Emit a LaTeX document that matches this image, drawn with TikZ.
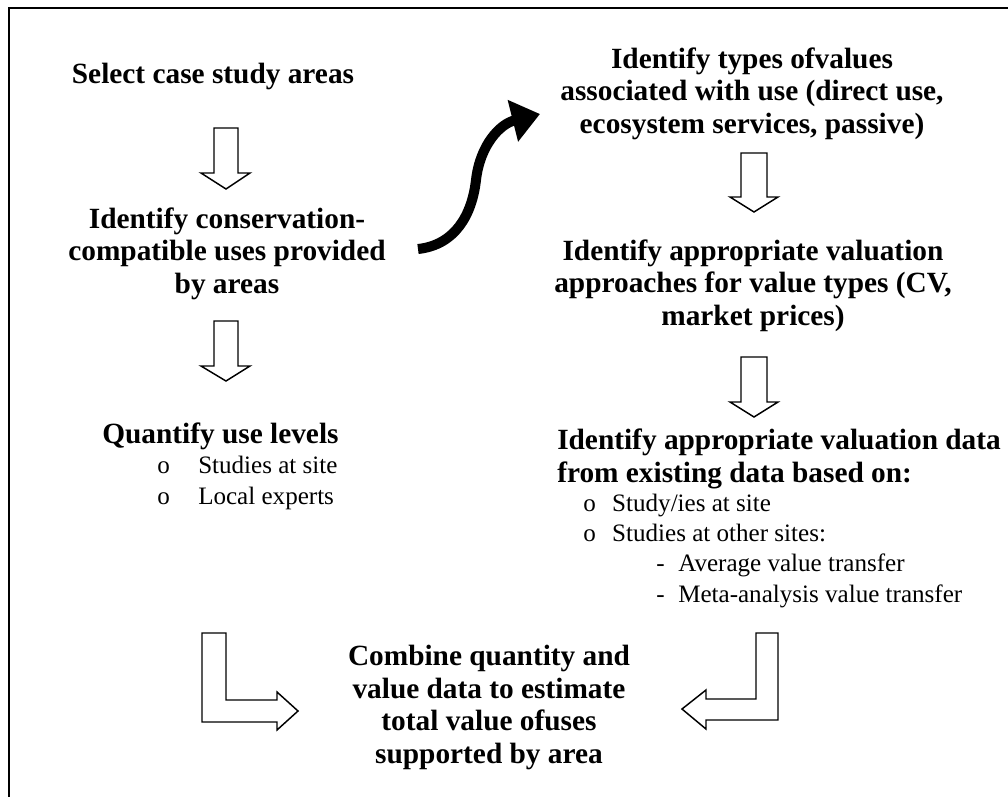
\documentclass[tikz,border=0pt]{standalone}
\usepackage{fontspec}
\setmainfont{Liberation Serif}
\usetikzlibrary{arrows.meta}
\tikzset{
  bold/.style={inner sep=0pt, font=\bfseries\fontsize{22}{24.3}\selectfont},
  plain/.style={inner sep=0pt, font=\fontsize{18.8}{22.6}\selectfont, align=left},
  blockarrow/.style={draw=black, line width=1.1pt, fill=white, line join=miter},
  frame/.style={draw=black, line width=1.5pt},
  curvy/.style={line width=7.5pt, -{Triangle[length=21pt,width=31pt]}}
}
\begin{document}
\begin{tikzpicture}[x=0.75pt,y=-0.75pt]
\useasboundingbox (0,0) rectangle (1008,797);
\draw[frame] (1008,7.5) -- (8.5,7.5) -- (8.5,797);

% left column (base anchor = baseline of the last line)
\node[bold, anchor=base] (sel) at (213,83) {Select case study areas};
\node[bold, anchor=base, align=center] (cons) at (227,293) {Identify conservation-\\compatible uses provided\\by areas};
\node[bold, anchor=base west] (quant) at (102,443) {Quantify use levels};
\node[plain, anchor=base west] (qlist) at (157,504) {\makebox[30.75pt][l]{o}Studies at site\\\makebox[30.75pt][l]{o}Local experts};

% right column
\node[bold, anchor=base, align=center] (types) at (752,133) {Identify types ofvalues\\associated with use (direct use,\\ecosystem services, passive)};
\node[bold, anchor=base, align=center] (appr) at (753,325) {Identify appropriate valuation\\approaches for value types (CV,\\market prices)};
\node[bold, anchor=base west, align=left] (data) at (557,482) {Identify appropriate valuation data\\from existing data based on:};
\node[plain, anchor=base west] (dlist) at (583,602) {\makebox[21.75pt][l]{o}Study/ies at site\\\makebox[21.75pt][l]{o}Studies at other sites:\\\hspace*{54.75pt}\makebox[16.5pt][l]{-}Average value transfer\\\hspace*{54.75pt}\makebox[16.5pt][l]{-}Meta-analysis value transfer};

% bottom
\node[bold, anchor=base, align=center] (comb) at (489,763) {Combine quantity and\\value data to estimate\\total value ofuses\\supported by area};

% block arrows
\draw[blockarrow] (214,128) -- (238,128) -- (238,173) -- (250,173) -- (226,189) -- (201,173) -- (214,173) -- cycle;
\draw[blockarrow] (214,321) -- (238,321) -- (238,366) -- (250,366) -- (226,381) -- (201,366) -- (214,366) -- cycle;
\draw[blockarrow] (741,153) -- (767,153) -- (767,197) -- (778,197) -- (754,212) -- (730,197) -- (741,197) -- cycle;
\draw[blockarrow] (741,357) -- (767,357) -- (767,402) -- (778,402) -- (754,417) -- (730,402) -- (741,402) -- cycle;
\draw[blockarrow] (202,633) -- (226,633) -- (226,700) -- (277,700) -- (277,692) -- (298,711) -- (277,730) -- (277,722) -- (202,722) -- cycle;
\draw[blockarrow] (778,633) -- (756,633) -- (756,699) -- (706,699) -- (706,690) -- (682,709) -- (706,729) -- (706,720) -- (778,720) -- cycle;

% curved connector
\coordinate (c1) at (418,249);
\coordinate (c2) at (540,114);
\draw[curvy] (c1) .. controls (455,245) and (472,215) .. (476,180) .. controls (480,145) and (500,124) .. (c2);
\end{tikzpicture}
\end{document}
